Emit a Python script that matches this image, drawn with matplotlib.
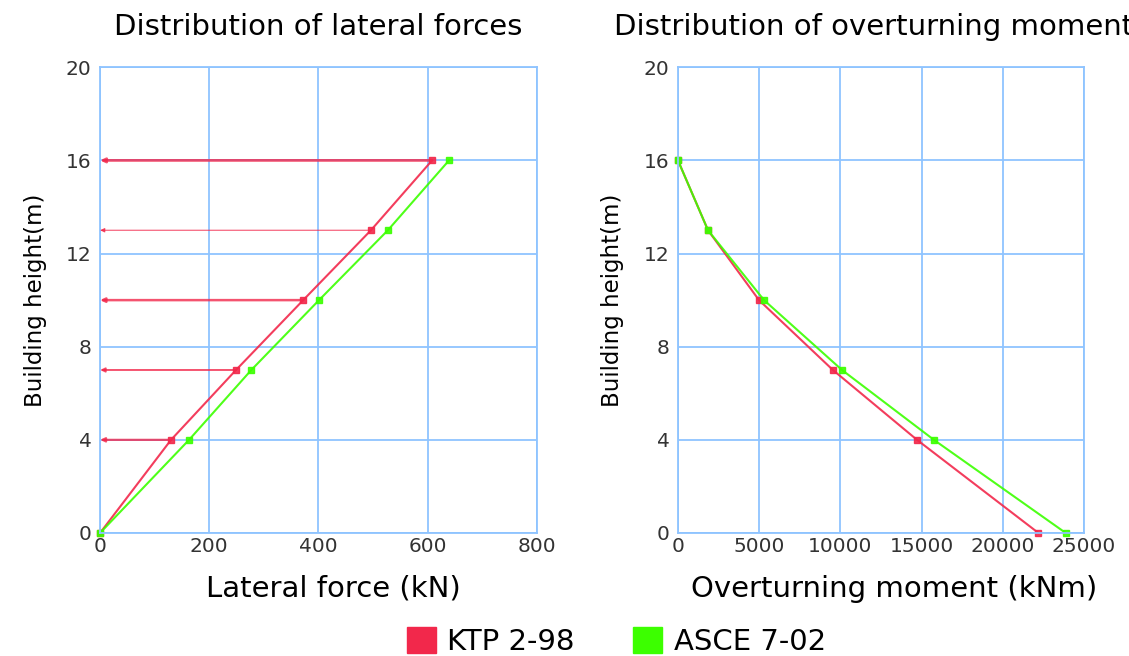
import matplotlib.pyplot as plt
from matplotlib.patches import Patch

# storey heights (m) and values
heights = [0, 4, 7, 10, 13, 16]
force_ktp = [0, 130, 249, 372, 496, 608]
force_asce = [0, 163, 277, 401, 527, 639]
moment_ktp = [22200, 14720, 9540, 4990, 1850, 0]
moment_asce = [23880, 15760, 10100, 5300, 1850, 0]

force_ticks = [0, 200, 400, 600, 800]
moment_ticks = [0, 5000, 10000, 15000, 20000, 25000]
height_ticks = [0, 4, 8, 12, 16, 20]

red = '#f2284b'
green = '#3cff00'
grid_blue = '#8fc4ff'

fig = plt.figure(figsize=(11.29, 6.56), dpi=100)
ax1 = fig.add_axes([0.0886, 0.1875, 0.387, 0.710])
ax2 = fig.add_axes([0.6005, 0.1875, 0.3596, 0.710])

for ax in (ax1, ax2):
    ax.set_ylim(0, 20)
    ax.set_yticks(height_ticks)
    ax.grid(True, color=grid_blue, linewidth=1.3)
    ax.set_axisbelow(True)
    for s in ax.spines.values():
        s.set_color(grid_blue)
        s.set_linewidth(1.3)
    ax.tick_params(length=0, labelsize=14.5, labelcolor='#333333')
    ax.tick_params(axis='x', pad=3)
    ax.tick_params(axis='y', pad=6)
    ax.set_ylabel('Building height(m)', fontsize=16.5, labelpad=14)

# lateral forces, with the storey force arrows
ax1.set_xlim(0, 800)
ax1.set_xticks(force_ticks)
arrow_lw = [1.6, 1.4, 1.8, 0.8, 2.0]
for h, f, lw in zip(heights[1:], force_ktp[1:], arrow_lw):
    ax1.annotate('', xy=(0, h), xytext=(f, h),
                 arrowprops=dict(arrowstyle='-|>,head_length=0.25,head_width=0.12',
                                 color=red, lw=lw, alpha=0.8, shrinkA=0, shrinkB=0))
ax1.plot(force_ktp, heights, color=red, lw=1.5, marker='s', ms=5, alpha=0.9, clip_on=False)
ax1.plot(force_asce, heights, color=green, lw=1.5, marker='s', ms=5, alpha=0.9, clip_on=False)
ax1.set_xlabel('Lateral force (kN)', fontsize=21)
ax1.xaxis.set_label_coords(0.533, -0.09)
ax1.set_title('Distribution of lateral forces', fontsize=21, pad=23)

# overturning moments (title runs off the right edge, as in the original)
ax2.set_xlim(0, 25000)
ax2.set_xticks(moment_ticks)
ax2.plot(moment_ktp, heights, color=red, lw=1.5, marker='s', ms=5, alpha=0.9, clip_on=False)
ax2.plot(moment_asce, heights, color=green, lw=1.5, marker='s', ms=5, alpha=0.9, clip_on=False)
ax2.set_xlabel('Overturning moment (kNm)', fontsize=21)
ax2.xaxis.set_label_coords(0.532, -0.09)
ax2.set_title('Distribution of overturning moments', fontsize=21, pad=23)

handles = [Patch(color=red, label='KTP 2-98'), Patch(color=green, label='ASCE 7-02')]
fig.legend(handles=handles, loc='center', bbox_to_anchor=(0.546, 0.022), ncol=2,
           frameon=False, fontsize=21, handlelength=1.0, handleheight=1.0,
           columnspacing=2.0, handletextpad=0.4)

fig.savefig('out.png', dpi=100)
